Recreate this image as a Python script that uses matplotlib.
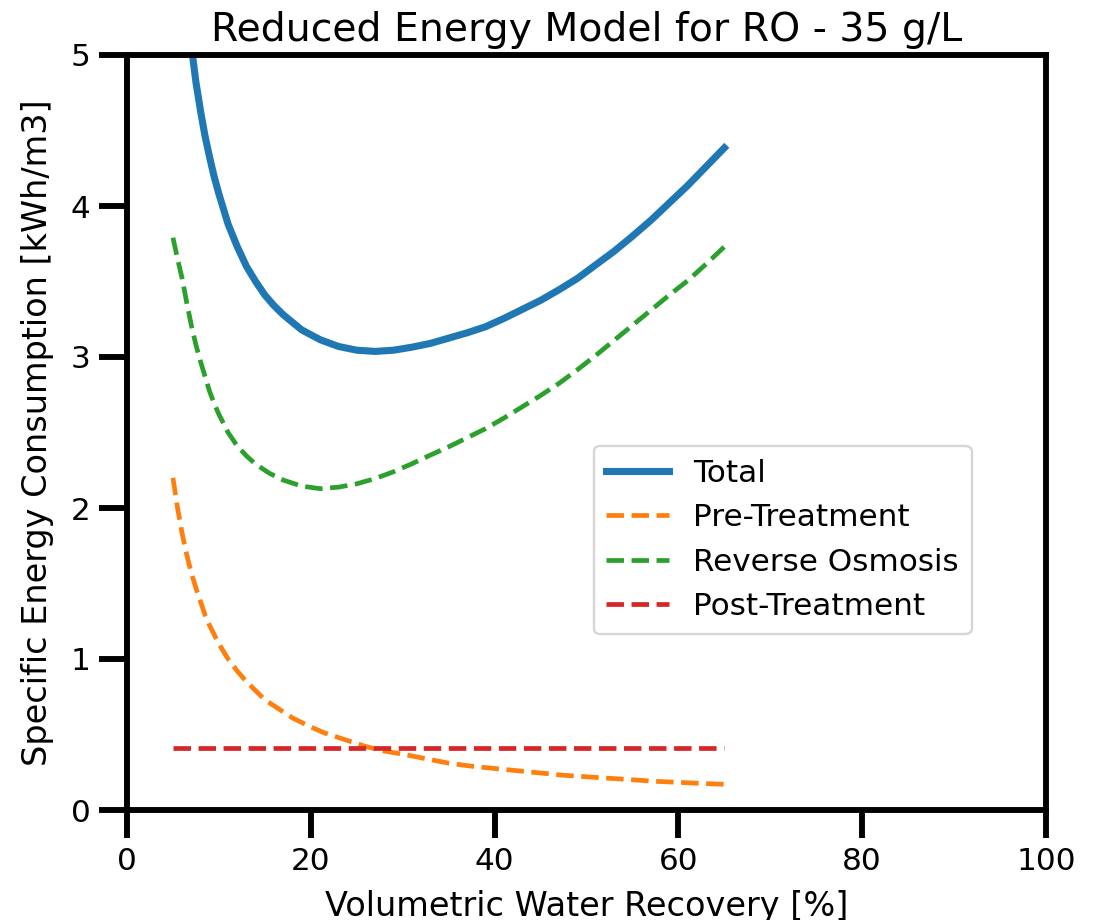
import matplotlib
matplotlib.use("Agg")
import matplotlib.pyplot as plt

# values
total_x = [5, 6, 7, 7.5, 8, 8.5, 9, 9.5, 10, 11, 12, 13, 14, 15, 16, 17, 19, 21, 23, 25, 27, 29, 31,
           33, 35, 37, 39, 41, 43, 45, 47, 49, 51, 53, 55, 57, 59, 61, 63, 65]
total_y = [6.40, 5.62, 5.06, 4.82, 4.63, 4.46, 4.32, 4.19, 4.08, 3.88, 3.73, 3.60, 3.50, 3.41, 3.34,
           3.28, 3.18, 3.115, 3.07, 3.045, 3.037, 3.045, 3.065, 3.09, 3.125, 3.16, 3.20, 3.255,
           3.315, 3.375, 3.445, 3.52, 3.61, 3.70, 3.80, 3.905, 4.02, 4.135, 4.26, 4.385]

pre_x = [5, 5.5, 6, 6.5, 7, 7.5, 8, 8.5, 9, 9.5, 10, 11, 12, 13, 14, 15, 16, 17, 18, 19, 20, 21.5,
         23, 24.5, 26, 28, 30, 32.5, 35, 37.5, 40, 42.5, 45, 47.5, 50, 52.5, 55, 57.5, 60, 62.5, 65]
pre_y = [2.20, 2.00, 1.83, 1.69, 1.57, 1.47, 1.38, 1.29, 1.22, 1.16, 1.10, 1.00, 0.92, 0.85, 0.79,
         0.73, 0.69, 0.65, 0.61, 0.58, 0.55, 0.51, 0.48, 0.45, 0.42, 0.39, 0.37, 0.34, 0.31, 0.29,
         0.275, 0.26, 0.245, 0.23, 0.22, 0.21, 0.20, 0.19, 0.183, 0.176, 0.17]

ro_x = [5, 5.5, 6, 6.5, 7, 7.5, 8, 8.5, 9, 9.5, 10, 11, 12, 13, 14, 15.5, 17, 19, 21, 23, 25, 27,
        29, 31, 33, 35, 37, 39, 41, 43, 45, 47, 49, 51, 53, 55, 57, 59, 61, 63, 65]
ro_y = [3.79, 3.65, 3.52, 3.36, 3.21, 3.08, 2.97, 2.87, 2.77, 2.69, 2.62, 2.50, 2.41, 2.345, 2.29,
        2.23, 2.185, 2.145, 2.128, 2.138, 2.16, 2.195, 2.24, 2.293, 2.35, 2.405, 2.465, 2.525,
        2.595, 2.67, 2.745, 2.825, 2.915, 3.01, 3.11, 3.21, 3.31, 3.41, 3.505, 3.615, 3.73]

post_x = [5, 65]
post_y = [0.41, 0.41]

plt.rcParams.update({
    "axes.linewidth": 2.5,
    "xtick.major.width": 2.5,
    "ytick.major.width": 2.5,
    "xtick.major.size": 12,
    "ytick.major.size": 12,
    "xtick.labelsize": 13.2,
    "ytick.labelsize": 13.2,
    "axes.labelsize": 14.2,
    "axes.titlesize": 16.7,
    "legend.fontsize": 13.2,
})

dpi = 170
fig = plt.figure(figsize=(1099 / dpi, 920 / dpi), dpi=dpi)
ax = fig.add_axes([127 / 1099, 110 / 920, 919 / 1099, 755 / 920])

ax.plot(total_x, total_y, color="C0", lw=3, label="Total")
ax.plot(pre_x, pre_y, color="C1", lw=2, ls="--", label="Pre-Treatment")
ax.plot(ro_x, ro_y, color="C2", lw=2, ls="--", label="Reverse Osmosis")
ax.plot(post_x, post_y, color="C3", lw=2, ls="--", label="Post-Treatment")

ax.set_xlim(0, 100)
ax.set_ylim(0, 5)
ax.set_xticks([0, 20, 40, 60, 80, 100])
ax.set_yticks([0, 1, 2, 3, 4, 5])
ax.set_title("Reduced Energy Model for RO - 35 g/L", pad=6)
ax.set_xlabel("Volumetric Water Recovery [%]", labelpad=6)
ax.set_ylabel("Specific Energy Consumption [kWh/m3]", labelpad=7)

ax.legend(loc="upper right", bbox_to_anchor=(0.919, 0.482), borderaxespad=0)

fig.savefig("out.png", dpi=dpi)
